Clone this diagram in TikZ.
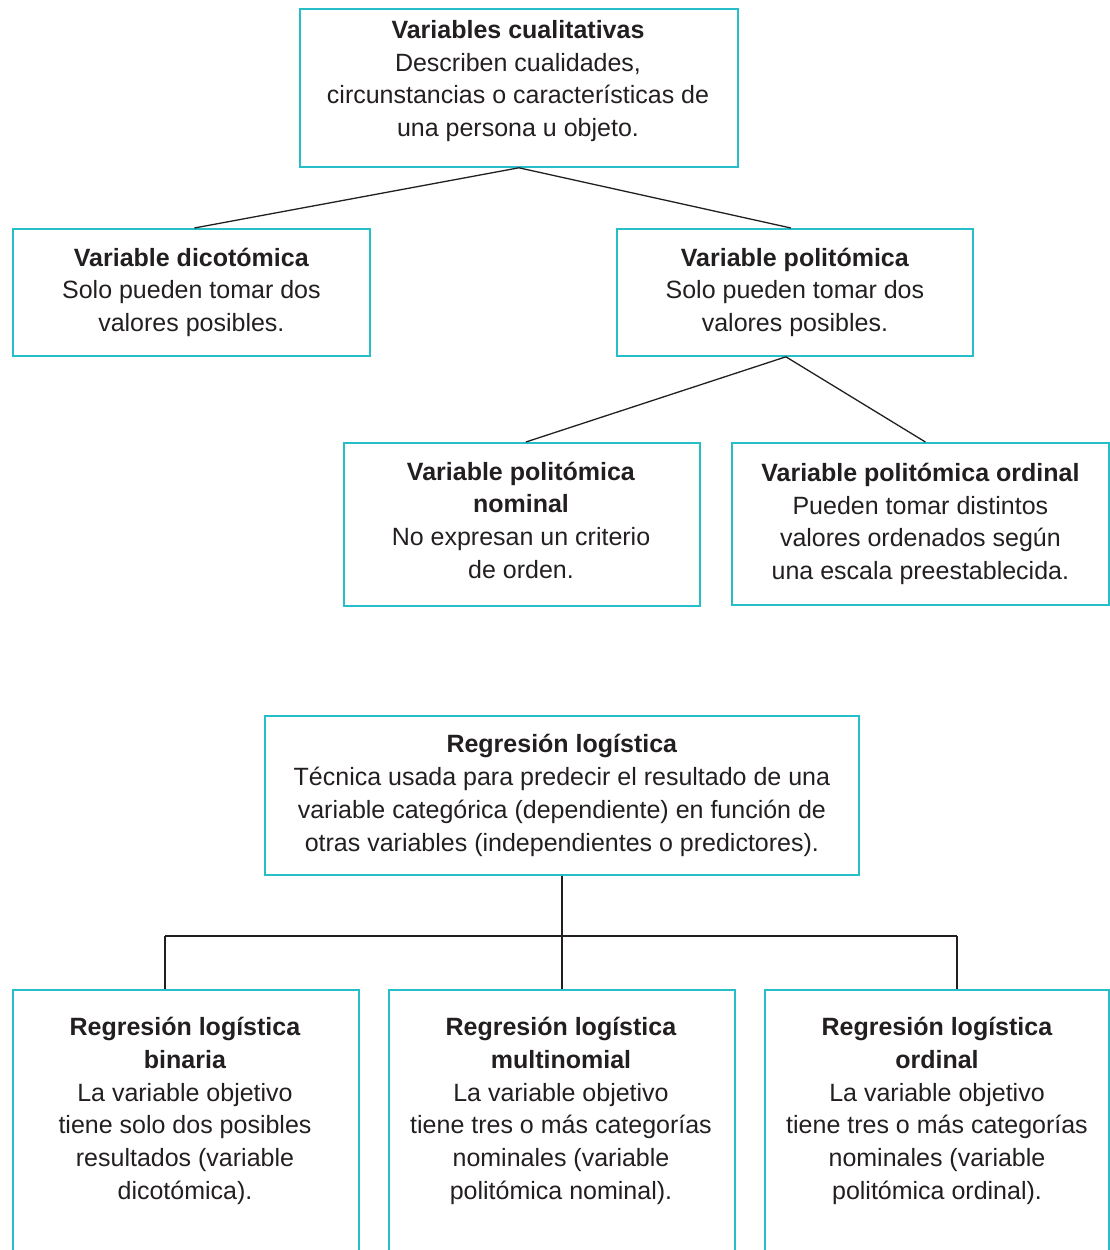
\documentclass[tikz,border=0pt]{standalone}
\usepackage{fontspec}
\setmainfont{Liberation Sans}
\usetikzlibrary{calc}
\definecolor{tealc}{RGB}{38,190,200}
\definecolor{linec}{RGB}{35,31,32}
\tikzset{
  box/.style={draw=tealc, line width=1.8pt, rectangle, anchor=north west, inner sep=0pt, align=center,
    font=\fontsize{25}{32.7}\selectfont, text=linec},
  txt/.style={align=center, inner sep=0pt, font=\fontsize{25}{32.7}\selectfont, text=linec},
  conn/.style={draw=linec, line width=1.3pt},
}
\begin{document}
\begin{tikzpicture}[x=1pt,y=-1pt]
\useasboundingbox (0,0) rectangle (1109,1250);
% upper tree
\node[box, minimum width=438pt, minimum height=158pt] (top) at (299,8) {};
\node[txt] (topt) at (518,81)
  {\textbf{Variables cualitativas}\\Describen cualidades,\\circunstancias o características de\\una persona u objeto.};
\node[box, minimum width=357pt, minimum height=127pt] (dic) at (12,228)
  {\textbf{Variable dicotómica}\\Solo pueden tomar dos\\valores posibles.};
\node[box, minimum width=356pt, minimum height=127pt] (pol) at (616,228)
  {\textbf{Variable politómica}\\Solo pueden tomar dos\\valores posibles.};
\node[box, minimum width=356pt, minimum height=163pt] (nom) at (343,442) {};
\node[txt] (nomt) at (521,520)
  {\textbf{Variable politómica}\\\textbf{nominal}\\No expresan un criterio\\de orden.};
\node[box, minimum width=377pt, minimum height=162pt] (ord) at (731,442)
  {\textbf{Variable politómica ordinal}\\Pueden tomar distintos\\valores ordenados según\\una escala preestablecida.};
\draw[conn] (top.south) -- ([xshift=3pt]dic.north);
\draw[conn] (top.south) -- ([xshift=-4pt]pol.north);
\draw[conn] ([xshift=-9pt]pol.south) -- ([xshift=4pt]nom.north);
\draw[conn] ([xshift=-9pt]pol.south) -- ([xshift=5pt]ord.north);
% lower tree
\node[box, minimum width=594pt, minimum height=159pt] (reg) at (264,715)
  {\textbf{Regresión logística}\\Técnica usada para predecir el resultado de una\\variable categórica (dependiente) en función de\\otras variables (independientes o predictores).};
\node[box, minimum width=346pt, minimum height=320pt] (bin) at (12,989) {};
\node[box, minimum width=346pt, minimum height=320pt] (mul) at (388,989) {};
\node[box, minimum width=344pt, minimum height=320pt] (rord) at (764,989) {};
\node[txt] (bint) at (185,1111)
  {\textbf{Regresión logística}\\\textbf{binaria}\\La variable objetivo\\tiene solo dos posibles\\resultados (variable\\dicotómica).};
\node[txt] (mult) at (561,1111)
  {\textbf{Regresión logística}\\\textbf{multinomial}\\La variable objetivo\\tiene tres o más categorías\\nominales (variable\\politómica nominal).};
\node[txt] (rordt) at (937,1111)
  {\textbf{Regresión logística}\\\textbf{ordinal}\\La variable objetivo\\tiene tres o más categorías\\nominales (variable\\politómica ordinal).};
\coordinate (hl) at (165,936);
\coordinate (hr) at (957,936);
\draw[conn] (reg.south) -- (mul.north);
\draw[conn, line width=1.8pt] (hl) -- (hr);
\draw[conn] (hl) -- (hl |- bin.north);
\draw[conn] (hr) -- (hr |- rord.north);
\end{tikzpicture}
\end{document}
